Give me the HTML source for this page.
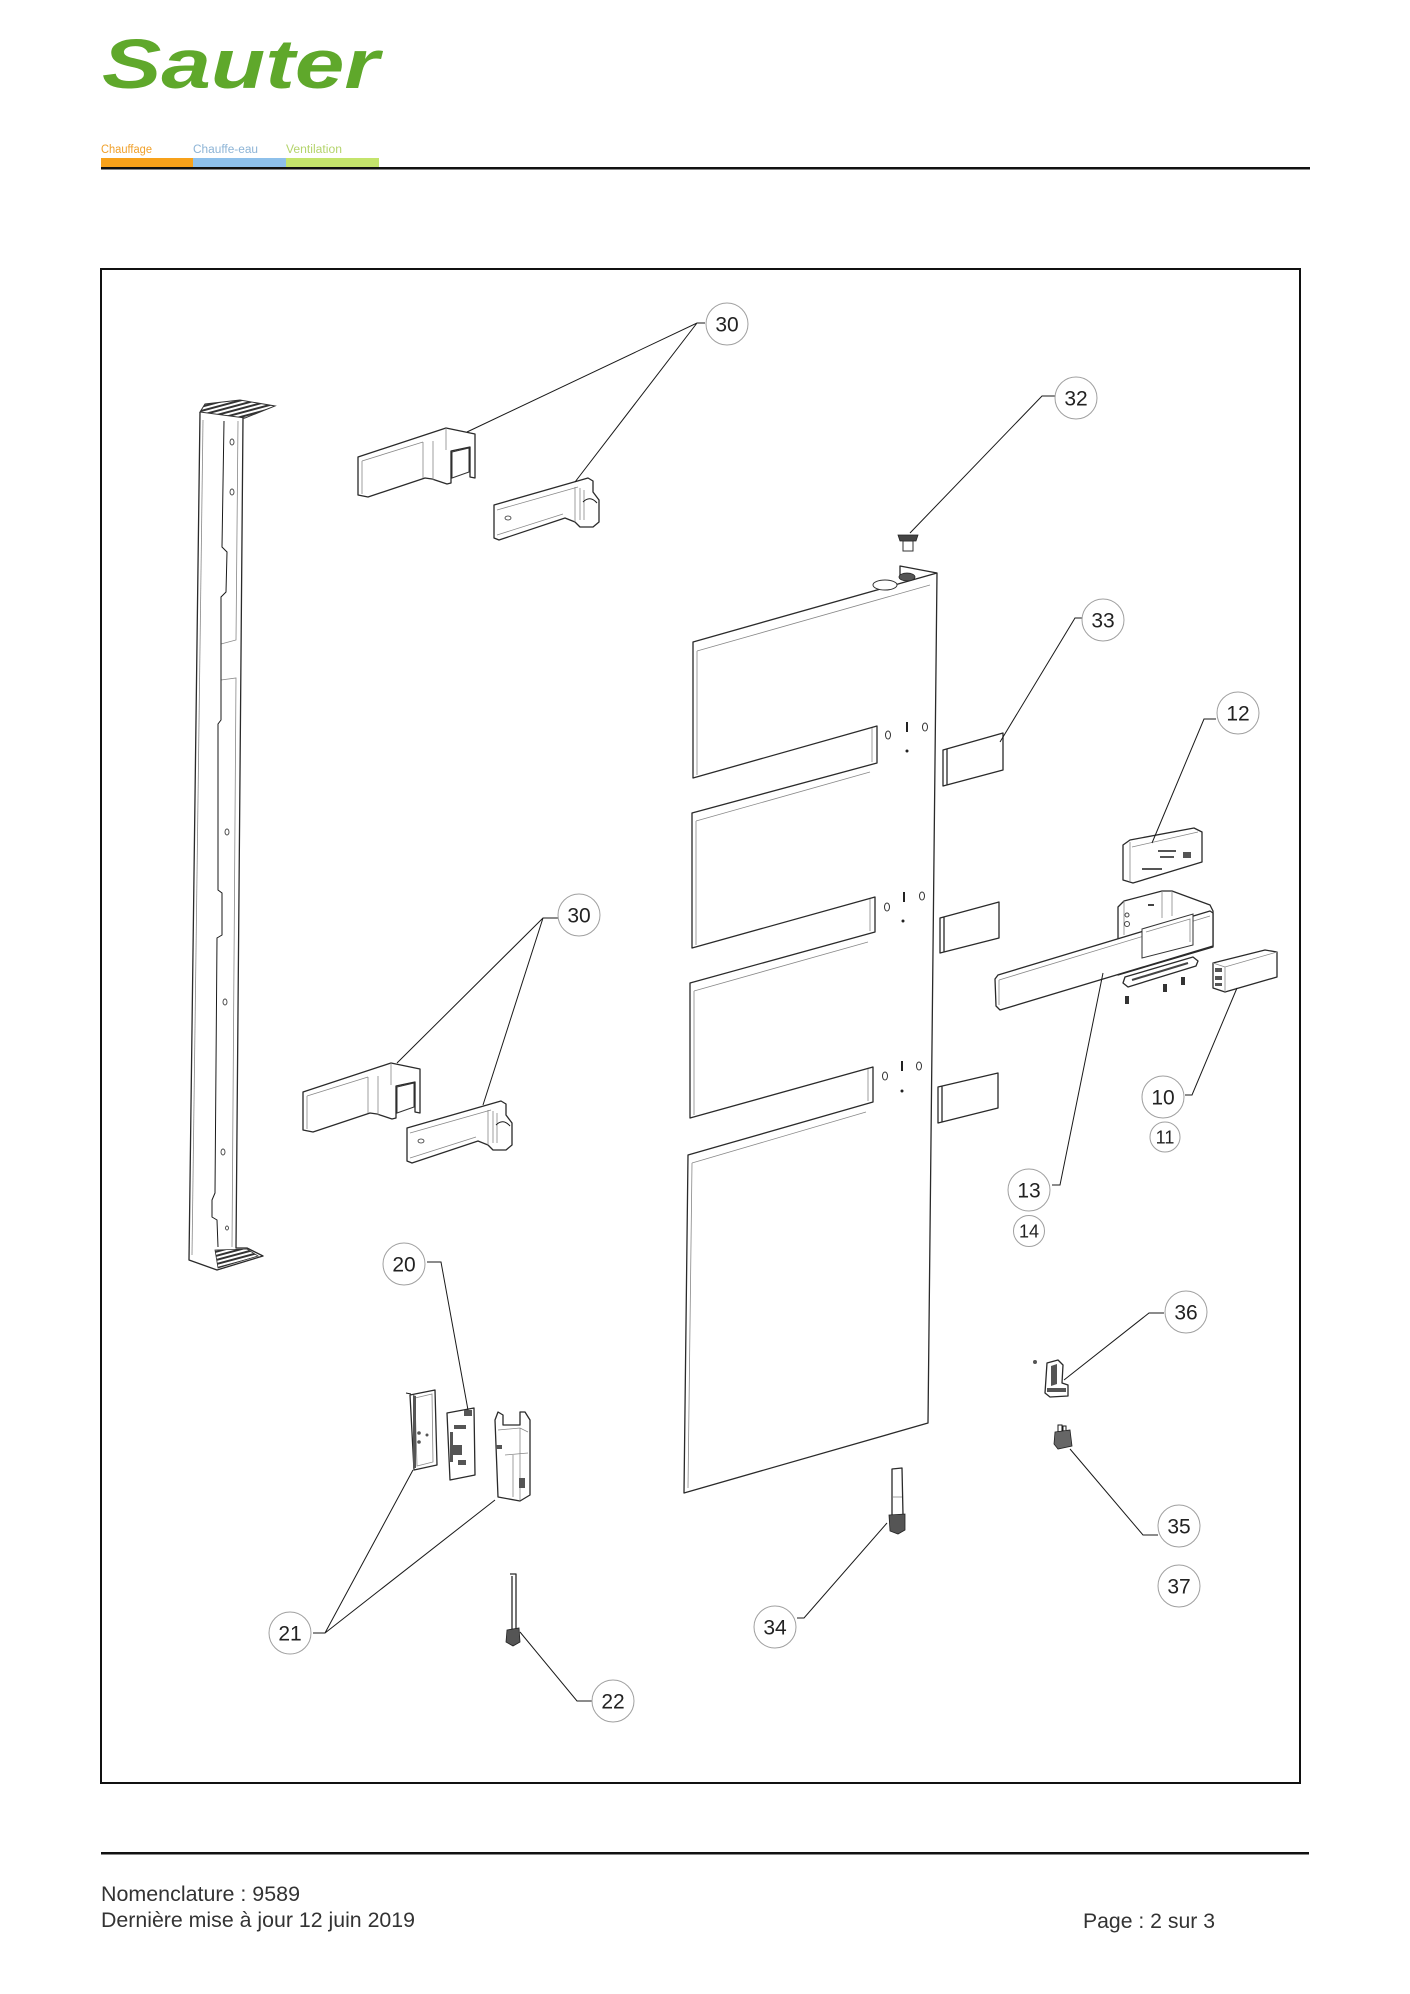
<!DOCTYPE html>
<html><head><meta charset="utf-8">
<style>
html,body{margin:0;padding:0;background:#fff;}
svg{display:block;}
.p{fill:#fff;stroke:#2a2a2a;stroke-width:1.3;stroke-linejoin:round;}
.n{fill:none;stroke:#2a2a2a;stroke-width:1.3;stroke-linejoin:round;}
.l{fill:none;stroke:#1a1a1a;stroke-width:1;}
.t{fill:none;stroke:#888;stroke-width:0.8;}
.c{fill:#fff;stroke:#a0a0a0;stroke-width:1;}
.d{fill:#444;stroke:#222;stroke-width:0.6;}
.lab{font-family:"Liberation Sans",Arial,sans-serif;font-size:21px;fill:#222;text-anchor:middle;}
.lab2{font-family:"Liberation Sans",Arial,sans-serif;font-size:18px;fill:#222;text-anchor:middle;}
.ft{font-family:"Liberation Sans",Arial,sans-serif;font-size:21px;fill:#333;}
</style></head>
<body>
<svg width="1410" height="1994" viewBox="0 0 1410 1994" xmlns="http://www.w3.org/2000/svg">
<defs>
<pattern id="hatch" width="4" height="4" patternUnits="userSpaceOnUse" patternTransform="rotate(-15)">
<rect width="4" height="4" fill="#fff"/><rect width="4" height="2" fill="#333"/>
</pattern>
</defs>

<!-- HEADER -->
<text x="102" y="88" font-family="Liberation Sans, Arial, sans-serif" font-weight="bold" font-style="italic" font-size="70" fill="#5fa82b" textLength="277" lengthAdjust="spacingAndGlyphs">Sauter</text>
<text x="101" y="153" font-family="Liberation Sans, Arial, sans-serif" font-size="11.5" fill="#f0a02a" textLength="51" lengthAdjust="spacingAndGlyphs">Chauffage</text>
<text x="193" y="153" font-family="Liberation Sans, Arial, sans-serif" font-size="11.5" fill="#8db4d6" textLength="65" lengthAdjust="spacingAndGlyphs">Chauffe-eau</text>
<text x="286" y="153" font-family="Liberation Sans, Arial, sans-serif" font-size="11.5" fill="#b4d46c" textLength="56" lengthAdjust="spacingAndGlyphs">Ventilation</text>
<rect x="101" y="158" width="92" height="9" fill="#f7a11a"/>
<rect x="193" y="158" width="93" height="9" fill="#8ec0ea"/>
<rect x="286" y="158" width="93" height="9" fill="#c4e46c"/>
<rect x="101" y="167" width="1209" height="2.5" fill="#111"/>

<!-- FRAME -->
<rect x="101" y="269" width="1199" height="1514" fill="none" stroke="#111" stroke-width="2"/>

<!-- COLUMN -->
<polygon points="200,412 205,404 240,400 275,406 245,418" fill="url(#hatch)" stroke="#333" stroke-width="1"/>
<path class="n" d="M200,412 L189,1260 L217,1270 L263,1256 L247,1248 L236,1248 L243,418 L245,418"/>
<path class="t" d="M238,421 L236,640 L221,644 M221,680 L236,678 L232,1247"/>
<path class="l" d="M224,421 L222,547 L227,552 L226,592 L221,597 L221,720 L218,724 L218,890 L222,893 L222,935 L217,938 L215,1193 L212,1200 L212,1217 L217,1220 L218,1247"/>
<path class="t" d="M203,420 L192,1255"/>
<polygon points="215,1250 247,1249 258,1256 218,1268" fill="url(#hatch)" stroke="#333" stroke-width="0.8"/>
<g fill="#fff" stroke="#444" stroke-width="0.9">
<ellipse cx="232" cy="442" rx="2" ry="3"/><ellipse cx="232" cy="492" rx="2" ry="3"/>
<ellipse cx="227" cy="832" rx="2" ry="3"/><ellipse cx="225" cy="1002" rx="2" ry="3"/>
<ellipse cx="223" cy="1152" rx="2" ry="3"/><ellipse cx="227" cy="1228" rx="1.5" ry="2"/>
</g>

<!-- BRACKETS -->
<g id="brA">
<polygon class="p" points="358,457 446,428 475,434 475,478 470,477 470,447 451,451 451,483 447,484 432,479 425,478 368,497 358,495"/>
<path class="t" d="M362,461 L423,442 M423,442 L423,478 M433,441 L433,480 M446,428 L446,450 M362,461 L362,494"/>
<polygon points="452,452 469,448 469,472 452,478" fill="#fff" stroke="#333" stroke-width="1"/>
</g>
<g id="brB">
<polygon class="p" points="494,505 588,478 593,481 593,492 599,500 599,522 593,527 580,527 575,522 565,518 499,540 494,538"/>
<path class="t" d="M497,510 L578,487 M497,535 L563,514 M575,487 L575,522 M580,488 L580,520 M584,490 L584,520"/>
<path class="l" d="M583,502 Q590,495 597,503"/>
<ellipse cx="508" cy="518" rx="3" ry="2" fill="#fff" stroke="#333" stroke-width="0.8"/>
</g>
<use href="#brA" transform="translate(-55,635)"/>
<use href="#brB" transform="translate(-87,623)"/>

<!-- MAIN PANEL -->
<path class="n" d="M937,573 L693,642 L693,778 L877,726 L877,763 L692,813 L692,948 L875,897 L875,932 L690,983 L690,1118 L873,1067 L873,1102 L688,1155 L684,1493 L928,1423 L937,573 Z"/>
<path class="t" d="M697,651 L930,585 M697,651 L697,775 M696,821 L870,772 M696,821 L696,945 M694,991 L868,942 M694,991 L694,1115 M692,1163 L866,1112 M692,1163 L688,1488 M872,728 L872,762 M870,899 L870,931 M868,1069 L868,1101"/>
<path class="n" d="M900,578 L900,566 L937,573"/>
<ellipse cx="907" cy="577" rx="8" ry="4" fill="#555" stroke="#222" stroke-width="0.8"/>
<ellipse cx="885" cy="585" rx="12" ry="5" fill="#fff" stroke="#333" stroke-width="1"/>
<!-- keyholes -->
<g fill="none" stroke="#333" stroke-width="1">
<ellipse cx="888" cy="735" rx="2.5" ry="4"/><ellipse cx="925" cy="727" rx="2.5" ry="4"/>
<ellipse cx="887" cy="907" rx="2.5" ry="4"/><ellipse cx="922" cy="896" rx="2.5" ry="4"/>
<ellipse cx="885" cy="1076" rx="2.5" ry="4"/><ellipse cx="919" cy="1066" rx="2.5" ry="4"/>
</g>
<g fill="#222">
<rect x="906" y="722" width="2" height="10"/><circle cx="907" cy="751" r="1.5"/>
<rect x="903" y="892" width="2" height="10"/><circle cx="903" cy="921" r="1.5"/>
<rect x="901" y="1061" width="2" height="10"/><circle cx="902" cy="1091" r="1.5"/>
</g>
<!-- label plates 33 -->
<path class="n" d="M943,750 L1003,733 L1003,770 L943,786 Z M947,749 L947,785"/>
<path class="n" d="M940,918 L999,902 L999,938 L940,953 Z M944,917 L944,952"/>
<path class="n" d="M938,1087 L998,1073 L998,1108 L938,1123 Z M942,1086 L942,1122"/>

<!-- small cap 32 -->
<path d="M898,535 L918,535 L916,541 L900,541 Z" fill="#444" stroke="#222" stroke-width="0.8"/>
<path d="M903,541 L913,541 L913,551 L903,551 Z" fill="#fff" stroke="#333" stroke-width="1"/>

<!-- TOWEL BAR ASSEMBLY -->
<polygon class="p" points="1118,907 1124,901 1162,891 1172,891 1210,905 1213,911 1213,947 1118,975"/>
<path class="t" d="M1124,901 L1124,935 M1162,891 L1162,918 M1172,891 L1172,916"/>
<circle cx="1127" cy="915" r="2" fill="none" stroke="#444"/><circle cx="1127" cy="924" r="2.5" fill="none" stroke="#444"/>
<rect x="1148" y="904" width="6" height="2" fill="#444"/>
<polygon class="p" points="998,975 1210,911 1213,913 1213,946 1000,1010 996,1006 995,979"/>
<path class="t" d="M999,980 L1210,916 M999,980 L999,1005"/>
<polygon points="1142,929 1193,914 1193,945 1142,958" fill="#fff" stroke="#333" stroke-width="1"/>
<path class="t" d="M1146,932 L1190,919 L1190,942"/>
<polygon class="p" points="1125,977 1193,957 1198,961 1196,966 1128,987 1123,983"/>
<path d="M1132,980 L1188,963" stroke="#444" stroke-width="2"/>
<g fill="#333"><path d="M1125,996 h4 v8 h-4 Z"/><path d="M1163,984 h4 v8 h-4 Z"/><path d="M1181,977 h4 v8 h-4 Z"/></g>
<!-- part 12 -->
<polygon class="p" points="1123,845 1130,840 1194,828 1202,832 1202,862 1133,883 1123,880"/>
<path class="t" d="M1130,842 L1130,882 M1132,847 L1198,832"/>
<g fill="#555"><rect x="1158" y="850" width="18" height="2"/><rect x="1160" y="856" width="14" height="2"/><rect x="1142" y="868" width="20" height="2"/><rect x="1183" y="852" width="8" height="6"/></g>
<!-- part 10 -->
<polygon class="p" points="1213,963 1265,950 1277,952 1277,977 1225,992 1213,988"/>
<path class="t" d="M1213,963 L1225,967 L1277,952 M1225,967 L1225,992"/>
<g fill="#555"><rect x="1215" y="968" width="7" height="4"/><rect x="1215" y="976" width="7" height="4"/><rect x="1215" y="983" width="7" height="3"/></g>

<!-- bottom parts -->
<path class="n" d="M892,1469 L902,1468 L903,1515 L892,1516 Z"/>
<path d="M889,1515 L905,1514 L905,1530 L898,1534 L890,1531 Z" fill="#555" stroke="#222" stroke-width="0.8"/>
<path class="t" d="M893,1497 L902,1497"/>
<!-- 36 -->
<path class="p" d="M1047,1363 L1058,1360 L1063,1365 L1062,1383 L1068,1385 L1068,1396 L1050,1397 L1045,1393 Z"/>
<path d="M1051,1366 L1057,1364 L1057,1384 L1051,1386 Z M1047,1388 L1066,1388 L1066,1392 L1047,1392 Z" fill="#555"/>
<circle cx="1035" cy="1362" r="2" fill="#555"/>
<!-- 35 -->
<path d="M1055,1432 L1070,1430 L1072,1446 L1058,1449 L1054,1444 Z" fill="#666" stroke="#222" stroke-width="0.8"/>
<path class="l" d="M1058,1432 L1058,1425 L1062,1425 L1062,1431 M1063,1431 L1063,1426 L1066,1426 L1066,1430"/>
<!-- 21a frame -->
<path class="p" d="M410,1395 L435,1390 L437,1465 L414,1470 Z"/>
<path class="t" d="M415,1398 L432,1394 L433,1462 L417,1466 Z"/>
<path d="M413,1395 L413,1468 L416,1468 L416,1396 Z" fill="#555"/>
<circle cx="419" cy="1433" r="1.8" fill="#555"/><circle cx="419" cy="1442" r="1.8" fill="#555"/><circle cx="427" cy="1435" r="1.5" fill="#555"/>
<path class="l" d="M406,1393 L411,1394"/>
<!-- 20 PCB -->
<path class="p" d="M447,1413 L474,1408 L475,1475 L450,1480 Z"/>
<g fill="#555"><rect x="464" y="1410" width="8" height="6"/><rect x="454" y="1425" width="12" height="4"/><rect x="452" y="1445" width="10" height="10"/><rect x="458" y="1460" width="8" height="5"/><rect x="450" y="1432" width="3" height="30"/></g>
<!-- 21b box -->
<path class="p" d="M495,1420 L498,1412 L503,1415 L503,1425 L520,1425 L520,1412 L525,1412 L530,1420 L530,1495 L520,1501 L498,1497 Z"/>
<path class="t" d="M498,1430 L520,1428 L528,1432 M520,1428 L520,1500 M505,1455 L528,1453 M513,1455 L513,1497"/>
<g fill="#555"><rect x="496" y="1445" width="6" height="4"/><rect x="519" y="1478" width="6" height="10"/></g>
<!-- 22 -->
<path class="n" d="M510,1574 L516,1574 L516,1630 M512,1576 L512,1630"/>
<path d="M507,1630 L519,1628 L520,1642 L513,1646 L506,1642 Z" fill="#555" stroke="#222" stroke-width="0.8"/>

<!-- LEADERS -->
<path class="l" d="M705,323 L697,323 L467,432 M697,323 L575,482"/>
<path class="l" d="M1055,396 L1042,396 L910,533"/>
<path class="l" d="M1082,618 L1075,618 L1000,742"/>
<path class="l" d="M1216,719 L1204,719 L1152,843"/>
<path class="l" d="M1185,1095 L1192,1095 L1237,988"/>
<path class="l" d="M1052,1185 L1060,1185 L1103,973"/>
<path class="l" d="M1164,1313 L1149,1313 L1064,1380"/>
<path class="l" d="M1158,1535 L1143,1535 L1070,1449"/>
<path class="l" d="M797,1618 L804,1618 L887,1523"/>
<path class="l" d="M427,1262 L441,1262 L468,1410"/>
<path class="l" d="M313,1633 L325,1633 L413,1470 M325,1633 L495,1500"/>
<path class="l" d="M592,1701 L577,1701 L520,1632"/>
<path class="l" d="M558,918 L543,918 L397,1063 M543,918 L483,1105"/>

<!-- LABEL CIRCLES -->
<circle class="c" cx="727" cy="324" r="21"/><text class="lab" x="727" y="331.5">30</text>
<circle class="c" cx="1076" cy="398" r="21"/><text class="lab" x="1076" y="405.5">32</text>
<circle class="c" cx="1103" cy="620" r="21"/><text class="lab" x="1103" y="627.5">33</text>
<circle class="c" cx="1238" cy="713" r="21"/><text class="lab" x="1238" y="720.5">12</text>
<circle class="c" cx="579" cy="915" r="21"/><text class="lab" x="579" y="922.5">30</text>
<circle class="c" cx="1163" cy="1097" r="21"/><text class="lab" x="1163" y="1104.5">10</text>
<circle class="c" cx="1165" cy="1137" r="15"/><text class="lab2" x="1165" y="1143.5">11</text>
<circle class="c" cx="1029" cy="1190" r="21"/><text class="lab" x="1029" y="1197.5">13</text>
<circle class="c" cx="1029" cy="1231" r="15.5"/><text class="lab2" x="1029" y="1237.5">14</text>
<circle class="c" cx="404" cy="1264" r="21"/><text class="lab" x="404" y="1271.5">20</text>
<circle class="c" cx="1186" cy="1312" r="21"/><text class="lab" x="1186" y="1319.5">36</text>
<circle class="c" cx="1179" cy="1526" r="21"/><text class="lab" x="1179" y="1533.5">35</text>
<circle class="c" cx="1179" cy="1586" r="21"/><text class="lab" x="1179" y="1593.5">37</text>
<circle class="c" cx="775" cy="1627" r="21"/><text class="lab" x="775" y="1634.5">34</text>
<circle class="c" cx="290" cy="1633" r="21"/><text class="lab" x="290" y="1640.5">21</text>
<circle class="c" cx="613" cy="1701" r="21"/><text class="lab" x="613" y="1708.5">22</text>

<!-- FOOTER -->
<rect x="101" y="1852" width="1208" height="2.5" fill="#111"/>
<text class="ft" x="101" y="1901" textLength="199" lengthAdjust="spacingAndGlyphs">Nomenclature : 9589</text>
<text class="ft" x="101" y="1927" textLength="314" lengthAdjust="spacingAndGlyphs">Dernière mise à jour 12 juin 2019</text>
<text class="ft" x="1083" y="1928" textLength="132" lengthAdjust="spacingAndGlyphs">Page : 2 sur 3</text>
</svg>
</body></html>
